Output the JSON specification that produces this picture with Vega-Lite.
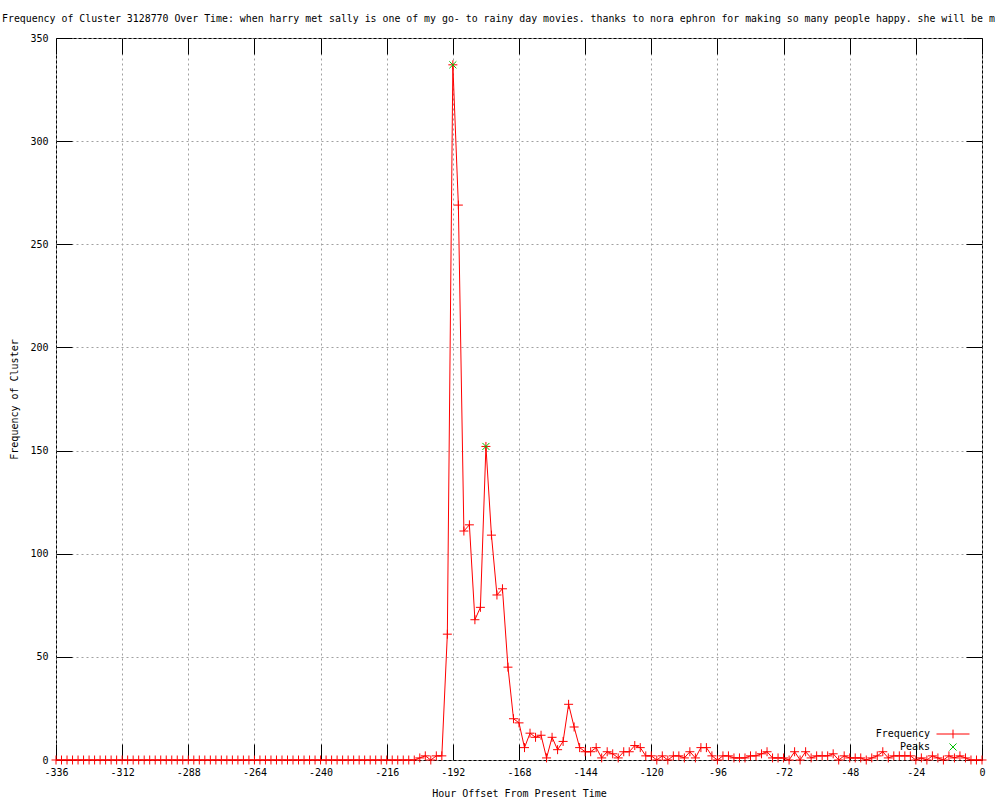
{
  "$schema": "https://vega.github.io/schema/vega-lite/v6.json",
  "width": 926,
  "height": 722,
  "autosize": {"type": "none"},
  "padding": {"left": 56, "top": 38, "right": 18, "bottom": 40},
  "background": "white",
  "config": {
    "view": {"stroke": "black", "strokeWidth": 1},
    "font": "DejaVu Sans Mono"
  },
  "title": {
    "text": "Frequency of Cluster 3128770 Over Time: when harry met sally is one of my go- to rainy day movies. thanks to nora ephron for making so many people happy. she will be m",
    "anchor": "start",
    "frame": "group",
    "dx": -54,
    "dy": 16,
    "offset": 17,
    "fontSize": 9.9,
    "fontWeight": "normal",
    "font": "DejaVu Sans Mono",
    "color": "black",
    "baseline": "alphabetic"
  },
  "datasets": {
    "freq": [
      {"h": -336, "f": 0}, {"h": -334, "f": 0}, {"h": -332, "f": 0}, {"h": -330, "f": 0}, {"h": -328, "f": 0},
      {"h": -326, "f": 0}, {"h": -324, "f": 0}, {"h": -322, "f": 0}, {"h": -320, "f": 0}, {"h": -318, "f": 0},
      {"h": -316, "f": 0}, {"h": -314, "f": 0}, {"h": -312, "f": 0}, {"h": -310, "f": 0}, {"h": -308, "f": 0},
      {"h": -306, "f": 0}, {"h": -304, "f": 0}, {"h": -302, "f": 0}, {"h": -300, "f": 0}, {"h": -298, "f": 0},
      {"h": -296, "f": 0}, {"h": -294, "f": 0}, {"h": -292, "f": 0}, {"h": -290, "f": 0}, {"h": -288, "f": 0},
      {"h": -286, "f": 0}, {"h": -284, "f": 0}, {"h": -282, "f": 0}, {"h": -280, "f": 0}, {"h": -278, "f": 0},
      {"h": -276, "f": 0}, {"h": -274, "f": 0}, {"h": -272, "f": 0}, {"h": -270, "f": 0}, {"h": -268, "f": 0},
      {"h": -266, "f": 0}, {"h": -264, "f": 0}, {"h": -262, "f": 0}, {"h": -260, "f": 0}, {"h": -258, "f": 0},
      {"h": -256, "f": 0}, {"h": -254, "f": 0}, {"h": -252, "f": 0}, {"h": -250, "f": 0}, {"h": -248, "f": 0},
      {"h": -246, "f": 0}, {"h": -244, "f": 0}, {"h": -242, "f": 0}, {"h": -240, "f": 0}, {"h": -238, "f": 0},
      {"h": -236, "f": 0}, {"h": -234, "f": 0}, {"h": -232, "f": 0}, {"h": -230, "f": 0}, {"h": -228, "f": 0},
      {"h": -226, "f": 0}, {"h": -224, "f": 0}, {"h": -222, "f": 0}, {"h": -220, "f": 0}, {"h": -218, "f": 0},
      {"h": -216, "f": 0}, {"h": -214, "f": 0}, {"h": -212, "f": 0}, {"h": -210, "f": 0}, {"h": -208, "f": 0},
      {"h": -206, "f": 0}, {"h": -204, "f": 1}, {"h": -202, "f": 2}, {"h": -200, "f": 0}, {"h": -198, "f": 2},
      {"h": -196, "f": 2}, {"h": -194, "f": 61}, {"h": -192, "f": 337}, {"h": -190, "f": 269}, {"h": -188, "f": 111},
      {"h": -186, "f": 114}, {"h": -184, "f": 68}, {"h": -182, "f": 74}, {"h": -180, "f": 152}, {"h": -178, "f": 109},
      {"h": -176, "f": 80}, {"h": -174, "f": 83}, {"h": -172, "f": 45}, {"h": -170, "f": 20}, {"h": -168, "f": 18},
      {"h": -166, "f": 6}, {"h": -164, "f": 13}, {"h": -162, "f": 11}, {"h": -160, "f": 12}, {"h": -158, "f": 1},
      {"h": -156, "f": 11}, {"h": -154, "f": 5}, {"h": -152, "f": 9}, {"h": -150, "f": 27}, {"h": -148, "f": 16},
      {"h": -146, "f": 6}, {"h": -144, "f": 4}, {"h": -142, "f": 4}, {"h": -140, "f": 6}, {"h": -138, "f": 1},
      {"h": -136, "f": 4}, {"h": -134, "f": 3}, {"h": -132, "f": 1}, {"h": -130, "f": 4}, {"h": -128, "f": 4},
      {"h": -126, "f": 7}, {"h": -124, "f": 6}, {"h": -122, "f": 2}, {"h": -120, "f": 2}, {"h": -118, "f": 0},
      {"h": -116, "f": 2}, {"h": -114, "f": 0}, {"h": -112, "f": 2}, {"h": -110, "f": 2}, {"h": -108, "f": 1},
      {"h": -106, "f": 4}, {"h": -104, "f": 1}, {"h": -102, "f": 6}, {"h": -100, "f": 6}, {"h": -98, "f": 2},
      {"h": -96, "f": 0}, {"h": -94, "f": 2}, {"h": -92, "f": 2}, {"h": -90, "f": 1}, {"h": -88, "f": 1},
      {"h": -86, "f": 1}, {"h": -84, "f": 2}, {"h": -82, "f": 2}, {"h": -80, "f": 3}, {"h": -78, "f": 4},
      {"h": -76, "f": 1}, {"h": -74, "f": 1}, {"h": -72, "f": 1}, {"h": -70, "f": 0}, {"h": -68, "f": 4},
      {"h": -66, "f": 0}, {"h": -64, "f": 4}, {"h": -62, "f": 1}, {"h": -60, "f": 2}, {"h": -58, "f": 2},
      {"h": -56, "f": 2}, {"h": -54, "f": 3}, {"h": -52, "f": 0}, {"h": -50, "f": 2}, {"h": -48, "f": 1},
      {"h": -46, "f": 1}, {"h": -44, "f": 1}, {"h": -42, "f": 0}, {"h": -40, "f": 1}, {"h": -38, "f": 2},
      {"h": -36, "f": 4}, {"h": -34, "f": 1}, {"h": -32, "f": 2}, {"h": -30, "f": 2}, {"h": -28, "f": 2},
      {"h": -26, "f": 2}, {"h": -24, "f": 0}, {"h": -22, "f": 1}, {"h": -20, "f": 0}, {"h": -18, "f": 2},
      {"h": -16, "f": 1}, {"h": -14, "f": 0}, {"h": -12, "f": 2}, {"h": -10, "f": 1}, {"h": -8, "f": 2},
      {"h": -6, "f": 1}, {"h": -4, "f": 0}, {"h": -2, "f": 0}, {"h": 0, "f": 0}
    ],
    "peaks": [
      {"h": -192, "f": 337},
      {"h": -180, "f": 152}
    ]
  },
  "resolve": {"axis": {"x": "independent", "y": "independent"}},
  "layer": [
    {
      "data": {"name": "freq"},
      "mark": {"type": "line", "color": "#ff0000", "strokeWidth": 1},
      "encoding": {
        "x": {
          "field": "h", "type": "quantitative",
          "scale": {"domain": [-336, 0], "nice": false, "zero": false},
          "axis": {
            "orient": "bottom",
            "values": [-336, -312, -288, -264, -240, -216, -192, -168, -144, -120, -96, -72, -48, -24, 0],
            "labelExpr": "'' + datum.value",
            "title": "Hour Offset From Present Time",
            "grid": true, "gridColor": "#a0a0a0", "gridDash": [2, 3], "gridOpacity": 1, "gridWidth": 1,
            "domain": false,
            "tickColor": "black", "tickSize": -16, "tickWidth": 1,
            "labelPadding": 23, "labelFont": "DejaVu Sans Mono", "labelFontSize": 10, "labelColor": "black",
            "labelFlush": false, "labelOverlap": false,
            "titleFont": "DejaVu Sans Mono", "titleFontSize": 10, "titleFontWeight": "normal", "titleColor": "black",
            "titlePadding": 11
          }
        },
        "y": {
          "field": "f", "type": "quantitative",
          "scale": {"domain": [0, 350], "nice": false},
          "axis": {
            "orient": "left",
            "values": [0, 50, 100, 150, 200, 250, 300, 350],
            "title": "Frequency of Cluster",
            "grid": true, "gridColor": "#a0a0a0", "gridDash": [2, 3], "gridOpacity": 1, "gridWidth": 1,
            "domain": false,
            "tickColor": "black", "tickSize": -16, "tickWidth": 1,
            "labelPadding": 24, "labelFont": "DejaVu Sans Mono", "labelFontSize": 10, "labelColor": "black",
            "labelFlush": false, "labelOverlap": false,
            "titleFont": "DejaVu Sans Mono", "titleFontSize": 10, "titleFontWeight": "normal", "titleColor": "black",
            "titlePadding": 10
          }
        },
        "color": {
          "datum": "Frequency",
          "scale": {"domain": ["Frequency", "Peaks"], "range": ["#ff0000", "#00c000"]},
          "legend": {
            "title": null, "orient": "none", "legendX": 891, "legendY": 690,
            "symbolSize": 121, "symbolStrokeWidth": 1, "labelAlign": "right", "labelOffset": -29,
            "labelFont": "DejaVu Sans Mono", "labelFontSize": 10, "labelColor": "black",
            "padding": 0, "rowPadding": 0, "symbolFillColor": "transparent"
          }
        }
      }
    },
    {
      "data": {"name": "freq"},
      "mark": {"type": "point", "shape": "M-1,0L1,0M0,-1L0,1", "size": 81, "filled": false, "color": "#ff0000", "strokeWidth": 1, "opacity": 1},
      "encoding": {
        "x": {
          "field": "h", "type": "quantitative",
          "axis": {
            "orient": "top", "values": [-336, -312, -288, -264, -240, -216, -192, -168, -144, -120, -96, -72, -48, -24, 0],
            "labels": false, "title": null, "grid": false, "domain": false,
            "tickColor": "black", "tickSize": -16, "tickWidth": 1
          }
        },
        "y": {
          "field": "f", "type": "quantitative",
          "axis": {
            "orient": "right", "values": [0, 50, 100, 150, 200, 250, 300, 350],
            "labels": false, "title": null, "grid": false, "domain": false,
            "tickColor": "black", "tickSize": -16, "tickWidth": 1
          }
        }
      }
    },
    {
      "data": {"name": "peaks"},
      "mark": {"type": "point", "size": 121, "filled": false, "strokeWidth": 1, "opacity": 1},
      "encoding": {
        "x": {"field": "h", "type": "quantitative", "axis": null},
        "y": {"field": "f", "type": "quantitative", "axis": null},
        "color": {"datum": "Peaks"},
        "shape": {
          "datum": "Peaks",
          "scale": {"domain": ["Frequency", "Peaks"], "range": ["M-3,0L3,0M0,-0.8L0,0.8", "M-0.64,-0.64L0.64,0.64M-0.64,0.64L0.64,-0.64"]},
          "legend": {
            "title": null, "orient": "none", "legendX": 891, "legendY": 690,
            "symbolSize": 121, "symbolStrokeWidth": 1, "labelAlign": "right", "labelOffset": -29,
            "labelFont": "DejaVu Sans Mono", "labelFontSize": 10, "labelColor": "black",
            "padding": 0, "rowPadding": 0, "symbolFillColor": "transparent"
          }
        }
      }
    }
  ]
}
